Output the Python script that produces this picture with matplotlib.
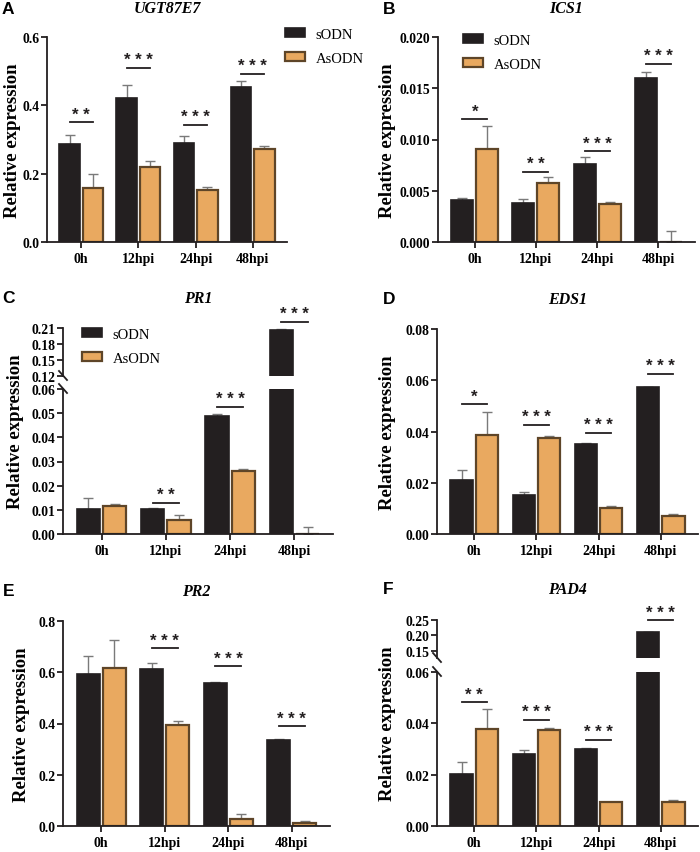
import matplotlib
matplotlib.use("Agg")
import matplotlib.pyplot as plt
import matplotlib.patches as patches
from matplotlib.lines import Line2D
import numpy as np

plt.rcParams['font.family'] = ['Liberation Serif', 'DejaVu Serif']

timepoints = ["0h", "12hpi", "24hpi", "48hpi"]
series = ["sODN", "AsODN"]

# A - UGT87E7
ugt_s = [0.287, 0.422, 0.291, 0.454]
ugt_s_err = [0.027, 0.037, 0.018, 0.017]
ugt_a = [0.158, 0.220, 0.153, 0.271]
ugt_a_err = [0.040, 0.018, 0.009, 0.011]
ugt_sig_y = [0.35, 0.51, 0.343, 0.492]
ugt_sig = ["**", "***", "***", "***"]

# B - ICS1
ics_s = [0.00405, 0.0038, 0.00765, 0.0160]
ics_s_err = [0.00023, 0.0004, 0.00065, 0.00063]
ics_a = [0.0091, 0.00574, 0.0037, 0.0]
ics_a_err = [0.0022, 0.00056, 0.00025, 0.0011]
ics_sig_y = [0.01196, 0.00687, 0.00885, 0.01737]
ics_sig = ["*", "**", "***", "***"]

# C - PR1 (broken axis)
pr1_s = [0.0103, 0.0102, 0.0489, 0.207]
pr1_s_err = [0.0048, 0.0004, 0.0008, 0.0005]
pr1_a = [0.0114, 0.0056, 0.0259, 0.0]
pr1_a_err = [0.001, 0.0024, 0.0008, 0.0028]
pr1_sig_y = [None, 0.0129, 0.0526, 0.222]
pr1_sig = ["", "**", "***", "***"]

# D - EDS1
eds_s = [0.0209, 0.0152, 0.0352, 0.0573]
eds_s_err = [0.004, 0.001, 0.0004, 0.0002]
eds_a = [0.0386, 0.0373, 0.0100, 0.0071]
eds_a_err = [0.0089, 0.0009, 0.0009, 0.0007]
eds_sig_y = [0.0506, 0.0426, 0.0394, 0.0626]
eds_sig = ["*", "***", "***", "***"]

# E - PR2
pr2_s = [0.593, 0.614, 0.557, 0.336]
pr2_s_err = [0.072, 0.022, 0.004, 0.005]
pr2_a = [0.616, 0.395, 0.0286, 0.013]
pr2_a_err = [0.11, 0.015, 0.017, 0.008]
pr2_sig_y = [None, 0.693, 0.623, 0.389]
pr2_sig = ["", "***", "***", "***"]

# F - PAD4 (broken axis)
pad_s = [0.0203, 0.0282, 0.0300, 0.2108]
pad_s_err = [0.0046, 0.0015, 0.0004, 0.001]
pad_a = [0.0378, 0.0375, 0.0092, 0.0095]
pad_a_err = [0.0079, 0.0005, 0.0003, 0.0006]
pad_sig_y = [0.0482, 0.0414, 0.0336, 0.249]
pad_sig = ["**", "***", "***", "***"]

BLACK = "#231f20"
ORANGE = "#e9a960"
BROWN = "#5e4528"
ERR = "#7a7a7a"
W, H = 700, 853
fig = plt.figure(figsize=(W / 100, H / 100), dpi=100)

def px_rect(l, r, b, t):
    return [l / W, 1 - b / H, (r - l) / W, (b - t) / H]

x = np.arange(len(timepoints))
off = 0.205
bw = 0.36

def style_axis(ax, show_x=True):
    for s in ['top', 'right']:
        ax.spines[s].set_visible(False)
    for s in ['left', 'bottom']:
        ax.spines[s].set_linewidth(1.3)
        ax.spines[s].set_color(BLACK)
    ax.tick_params(axis='y', direction='out', length=4, width=1.3, color=BLACK,
                   labelsize=9.8, pad=1.5)
    ax.tick_params(axis='x', direction='out', length=4, width=1.3, color=BLACK,
                   labelsize=10, pad=3)
    for lab in ax.get_yticklabels():
        lab.set_fontweight('bold')
    ax.set_xlim(-0.6, 3.6)
    if show_x:
        ax.set_xticks(x)
        ax.set_xticklabels(timepoints, fontweight='bold', fontsize=10)
    else:
        ax.spines['bottom'].set_visible(False)
        ax.set_xticks([])

def draw_bars(ax, s, s_err, a, a_err):
    ax.errorbar(x - off, s, yerr=[np.zeros(4), s_err], fmt='none', ecolor=ERR,
                elinewidth=1.0, capsize=3.5, capthick=1.0, zorder=1)
    ax.errorbar(x + off, a, yerr=[np.zeros(4), a_err], fmt='none', ecolor=ERR,
                elinewidth=1.0, capsize=3.5, capthick=1.0, zorder=1)
    ax.bar(x - off, s, bw, color=BLACK, edgecolor=BLACK, linewidth=1.2,
           label=series[0], zorder=2)
    ax.bar(x + off, a, bw, color=ORANGE, edgecolor=BROWN, linewidth=1.6,
           label=series[1], zorder=2)

def draw_sig(ax, i, y, label):
    ax.plot([x[i] - off, x[i] + off], [y, y], color=BLACK, lw=1.3,
            clip_on=False, zorder=3)
    ax.annotate(" ".join(label), (x[i], y), xytext=(0, 0.5), textcoords='offset points',
                ha='center', va='bottom', fontsize=12, fontweight='bold',
                family='Liberation Sans', color=BLACK, annotation_clip=False)

def labels(rect_px, letter, letter_x, title, title_y, ylab_dx):
    l, r, b, t = rect_px
    fig.text(letter_x / W, 1 - title_y / H, letter, fontsize=12.5,
             fontweight='bold', family='Liberation Sans', va='center', ha='left')
    fig.text((l + r) / 2 / W, 1 - title_y / H, title, fontsize=11.5,
             fontweight='bold', style='italic', va='center', ha='center')
    fig.text((l - ylab_dx) / W, 1 - (t + b) / 2 / H, "Relative expression",
             rotation=90, fontsize=13.5, fontweight='bold', va='center', ha='center')

def break_mark(sx, sy):
    fig.add_artist(Line2D([(sx - 4) / W, (sx + 4) / W],
                          [1 - (sy - 5) / H, 1 - (sy + 4) / H],
                          color=BLACK, lw=1.3))

def simple_panel(rect_px, s, s_err, a, a_err, sig_y, sig, ylim, ticks, fmt):
    l, r, b, t = rect_px
    ax = fig.add_axes(px_rect(l, r, b, t))
    draw_bars(ax, s, s_err, a, a_err)
    ax.set_ylim(*ylim)
    ax.set_yticks(ticks)
    ax.set_yticklabels([fmt % v for v in ticks])
    style_axis(ax)
    for i, (yy, lab) in enumerate(zip(sig_y, sig)):
        if yy is not None:
            draw_sig(ax, i, yy, lab)
    return ax

def broken_panel(low_px, up_px, s, s_err, a, a_err, sig_y, sig,
                 low_lim, low_ticks, up_lim, up_ticks, fmt):
    l, r, b, t = low_px
    ax = fig.add_axes(px_rect(l, r, b, t))
    ul, ur, ub, ut = up_px
    axu = fig.add_axes(px_rect(ul, ur, ub, ut))
    for axi, lim, ticks, sx in [(ax, low_lim, low_ticks, True), (axu, up_lim, up_ticks, False)]:
        draw_bars(axi, s, s_err, a, a_err)
        axi.set_ylim(*lim)
        axi.set_yticks(ticks)
        axi.set_yticklabels([fmt % v for v in ticks])
        style_axis(axi, show_x=sx)
    for i, (yy, lab) in enumerate(zip(sig_y, sig)):
        if yy is None:
            continue
        draw_sig(axu if yy > low_lim[1] else ax, i, yy, lab)
    break_mark(l, t)
    break_mark(ul, ub)
    return ax, axu

def add_legend(ax, fx, fy):
    h = [patches.Patch(facecolor=BLACK, edgecolor=BLACK, lw=1.2, label=series[0]),
         patches.Patch(facecolor=ORANGE, edgecolor=BROWN, lw=1.6, label=series[1])]
    ax.legend(handles=h, loc='upper left', bbox_to_anchor=(fx / W, 1 - fy / H),
              bbox_transform=fig.transFigure, frameon=False, fontsize=10.5,
              handlelength=1.4, handleheight=0.6, handletextpad=0.7,
              labelspacing=0.75, borderpad=0, borderaxespad=0)

# A
rA = (47, 287, 243, 38)
axA = simple_panel(rA, ugt_s, ugt_s_err, ugt_a, ugt_a_err, ugt_sig_y, ugt_sig,
                   (0, 0.6), [0, 0.2, 0.4, 0.6], "%.1f")
labels(rA, "A", 2, "UGT87E7", 9, 34)
add_legend(axA, 285, 29)

# B
rB = (438, 695, 243, 38)
axB = simple_panel(rB, ics_s, ics_s_err, ics_a, ics_a_err, ics_sig_y, ics_sig,
                   (0, 0.02), [0, 0.005, 0.010, 0.015, 0.020], "%.3f")
labels(rB, "B", 383, "ICS1", 9, 51)
add_legend(axB, 463, 35)

# C
rC_low = (63, 333, 535, 390)
rC_up = (63, 333, 377, 329)
axC, axCu = broken_panel(rC_low, rC_up, pr1_s, pr1_s_err, pr1_a, pr1_a_err,
                         pr1_sig_y, pr1_sig, (0, 0.06),
                         [0, 0.01, 0.02, 0.03, 0.04, 0.05, 0.06],
                         (0.12, 0.21), [0.12, 0.15, 0.18, 0.21], "%.2f")
labels((63, 333, 535, 329), "C", 2, "PR1", 299, 47)
add_legend(axCu, 82, 329)

# D
rD = (437, 698, 535, 330)
simple_panel(rD, eds_s, eds_s_err, eds_a, eds_a_err, eds_sig_y, eds_sig,
             (0, 0.08), [0, 0.02, 0.04, 0.06, 0.08], "%.2f")
labels(rD, "D", 383, "EDS1", 300, 49)

# E
rE = (63, 330, 827, 622)
simple_panel(rE, pr2_s, pr2_s_err, pr2_a, pr2_a_err, pr2_sig_y, pr2_sig,
             (0, 0.8), [0, 0.2, 0.4, 0.6, 0.8], "%.1f")
labels(rE, "E", 3, "PR2", 592, 41)

# F
rF_low = (437, 698, 827, 673)
rF_up = (437, 698, 659, 621)
broken_panel(rF_low, rF_up, pad_s, pad_s_err, pad_a, pad_a_err, pad_sig_y, pad_sig,
             (0, 0.06), [0, 0.02, 0.04, 0.06], (0.127, 0.25), [0.15, 0.20, 0.25], "%.2f")
labels((437, 698, 827, 621), "F", 383, "PAD4", 590, 49)

fig.savefig("out.png", dpi=100)
